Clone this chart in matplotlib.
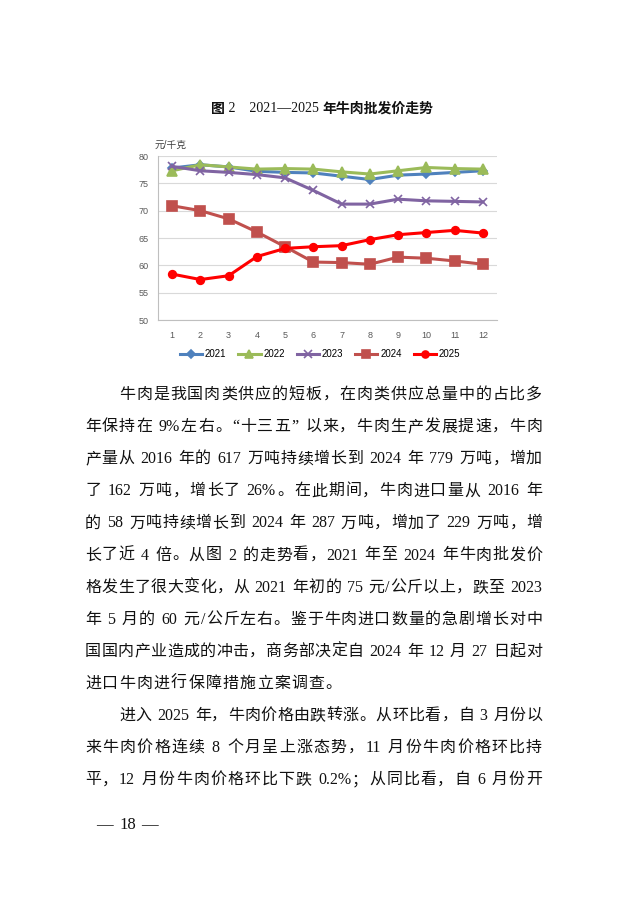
import matplotlib
matplotlib.use('Agg')
import matplotlib.pyplot as plt
from matplotlib.lines import Line2D

months = ['1', '2', '3', '4', '5', '6', '7', '8', '9', '10', '11', '12']
p2021 = [77.8, 78.4, 78.0, 77.2, 77.0, 76.9, 76.3, 75.7, 76.5, 76.7, 77.0, 77.3]
p2022 = [77.3, 78.4, 78.0, 77.6, 77.7, 77.6, 77.1, 76.7, 77.3, 77.9, 77.7, 77.6]
p2023 = [78.1, 77.3, 77.0, 76.6, 76.0, 73.7, 71.2, 71.2, 72.1, 71.8, 71.7, 71.6]
p2024 = [70.9, 70.0, 68.5, 66.1, 63.4, 60.6, 60.5, 60.2, 61.5, 61.3, 60.8, 60.2]
p2025 = [58.4, 57.4, 58.1, 61.6, 63.1, 63.4, 63.6, 64.7, 65.6, 66.0, 66.4, 65.9]
years = ['2021', '2022', '2023', '2024', '2025']
yticks = [50, 55, 60, 65, 70, 75, 80]

# title pieces: (text, bold?)
title_parts = [('图', True), (' 2　2021—2025 ', False), ('年牛肉批发价走势', True)]
unit = '元/千克'

para_lines = [
    ('牛肉是我国肉类供应的短板，在肉类供应总量中的占比多', True, True),
    ('年保持在 9%左右。“十三五” 以来，牛肉生产发展提速，牛肉', False, True),
    ('产量从 2016 年的 617 万吨持续增长到 2024 年 779 万吨，增加', False, True),
    ('了 162 万吨，增长了 26%。在此期间，牛肉进口量从 2016 年', False, True),
    ('的 58 万吨持续增长到 2024 年 287 万吨，增加了 229 万吨，增', False, True),
    ('长了近 4 倍。从图 2 的走势看，2021 年至 2024 年牛肉批发价', False, True),
    ('格发生了很大变化，从 2021 年初的 75 元/公斤以上，跌至 2023', False, True),
    ('年 5 月的 60 元/公斤左右。鉴于牛肉进口数量的急剧增长对中', False, True),
    ('国国内产业造成的冲击，商务部决定自 2024 年 12 月 27 日起对', False, True),
    ('进口牛肉进行保障措施立案调查。', False, False),
    ('进入 2025 年，牛肉价格由跌转涨。从环比看，自 3 月份以', True, True),
    ('来牛肉价格连续 8 个月呈上涨态势，11 月份牛肉价格环比持', False, True),
    ('平，12 月份牛肉价格环比下跌 0.2%；从同比看，自 6 月份开', False, True),
]
page_parts = ['—', '18', '—']

W, H = 635, 902
fam = ['Liberation Serif', 'Noto Sans CJK SC']
fam_chart = ['Liberation Sans', 'Noto Sans CJK SC']

fig = plt.figure(figsize=(W / 100, H / 100), dpi=100)
renderer = fig.canvas.get_renderer()


def fx(px):
    return px / W


def fy(py):
    return 1 - py / H


def width_of(a):
    return a.get_window_extent(renderer=renderer).width


# chart
ax = fig.add_axes([fx(158), fy(320), fx(497) - fx(158), fy(156) - fy(320)])
x = list(range(1, len(months) + 1))
styles = [
    (p2021, '#4F81BD', 'D', 4.5),
    (p2022, '#9BBB59', '^', 6.5),
    (p2023, '#8064A2', 'x', 6),
    (p2024, '#C0504D', 's', 6.5),
    (p2025, '#FF0000', 'o', 5.5),
]
handles = []
for (vals, col, mk, ms), yr in zip(styles, years):
    ax.plot(x, vals, color=col, lw=2.2, marker=mk, ms=ms, mew=1.2,
            mec=col, mfc=col, zorder=3)
    handles.append(Line2D([], [], color=col, lw=2.2, marker=mk, ms=ms - 0.5,
                          mew=1.2, mec=col, mfc=col, label=yr))

ax.set_xlim(0.5, 12.5)
ax.set_ylim(50, 80)
ax.set_xticks(x)
ax.set_xticklabels(months)
ax.set_yticks(yticks)
ax.grid(axis='y', color='#D9D9D9', lw=0.8, zorder=0)
ax.set_axisbelow(True)
for s in ['top', 'right']:
    ax.spines[s].set_visible(False)
ax.spines['left'].set_color('#BFBFBF')
ax.spines['bottom'].set_color('#BFBFBF')
ax.tick_params(length=0, labelsize=6.5, colors='#595959', pad=7)
ax.tick_params(axis='x', pad=8)
for lab in ax.get_xticklabels() + ax.get_yticklabels():
    lab.set_family(fam_chart)

fig.text(fx(155), fy(145), unit, fontsize=7, color='#404040',
         family=fam_chart, va='center', ha='left')
fig.legend(handles=handles, loc='center', bbox_to_anchor=(fx(320), fy(354)),
           ncol=5, frameon=False, handlelength=2.3, handletextpad=0.3,
           columnspacing=1.2, prop={'family': fam_chart, 'size': 7})

# title, mixed weight, centred
tarts = []
for t, b in title_parts:
    tarts.append(fig.text(0, fy(109), t, fontsize=10,
                          fontweight='bold' if b else 'normal',
                          family=fam, va='center', ha='left', color='#111111'))
tw = [width_of(a) for a in tarts]
cur = 322 - sum(tw) / 2
for a, w in zip(tarts, tw):
    a.set_x(fx(cur))
    cur += w

# body text, justified line by line
fs = 11.5
left, right, indent = 85, 542, 119
y0, step = 395, 32.1


def tokens_of(line):
    toks = []
    buf = ''
    for ch in line:
        if ch == ' ':
            if buf:
                toks.append(buf)
                buf = ''
            toks.append(' ')
        elif ord(ch) < 128:
            buf += ch
        else:
            if buf:
                toks.append(buf)
                buf = ''
            toks.append(ch)
    if buf:
        toks.append(buf)
    return toks


for i, (line, ind, just) in enumerate(para_lines):
    y = fy(y0 + i * step)
    xs = indent if ind else left
    toks = tokens_of(line)
    arts = []
    widths = []
    for t in toks:
        if t == ' ':
            arts.append(None)
            widths.append(fs * 100 / 72 * 0.3)
            continue
        a = fig.text(0, y, t, fontsize=fs, family=fam, va='center', ha='left',
                     color='#111111')
        arts.append(a)
        widths.append(width_of(a))
    total = sum(widths)
    ngap = len(toks) - 1
    if just and ngap > 0:
        gap = (right - xs - total) / ngap
    else:
        gap = 1.2
    cur = xs
    for a, w in zip(arts, widths):
        if a is not None:
            a.set_x(fx(cur))
        cur += w + gap

# page number
for t, px in zip(page_parts, [96, 119, 141]):
    fig.text(fx(px), fy(825), t, fontsize=12, family=fam, va='center',
             ha='left', color='#111111')

fig.savefig('out.png', dpi=100)
